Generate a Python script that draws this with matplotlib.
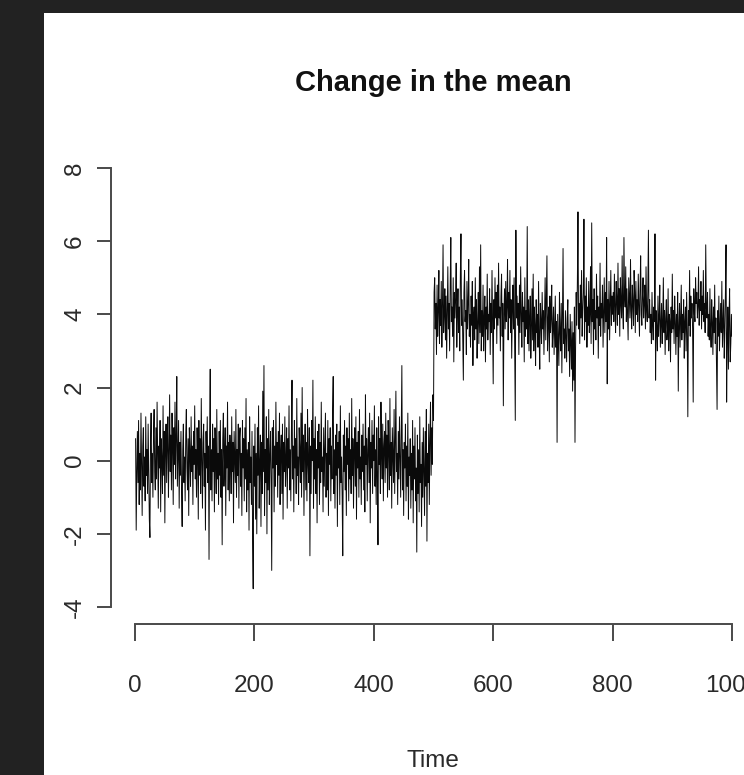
import matplotlib
matplotlib.use('Agg')
import matplotlib.pyplot as plt
from matplotlib.patches import Rectangle
import numpy as np

# series, first half (mean ~0) and second half (mean ~4)
before_change = [
    0.6, -1.9, -0.3, 0.8, -0.6, 1.1, -1.2, 0.2, -0.8, 1.3, -0.1, -1.5, 0.4, 0.9, -0.7, 0.1, -1.1, 1.2, -0.4, 0.3,
    -0.9, 1.0, -0.2, -1.6, -2.1, 0.5, 1.3, -0.6, 0.2, -1.0, 0.7, 1.4, -0.3, -0.8, 0.9, -0.5, 1.6, 0.1, -1.3, 0.4,
    -0.2, 1.1, -1.4, 0.6, 0.0, -0.9, 1.5, -0.4, 0.8, -1.7, 0.3, 1.0, -0.6, 0.5, 1.2, -1.0, 0.2, 1.8, -0.3, 0.7,
    -0.8, 1.3, 0.4, -1.2, 0.9, -0.1, 1.6, -0.5, 0.6, 2.3, -0.7, 0.2, 1.1, -1.3, 0.5, -0.4, 0.8, -0.9, -1.8, 0.3,
    1.0, -0.6, 0.1, -1.1, 0.7, 1.4, -0.2, -0.8, 0.6, -1.5, 0.9, 0.2, -0.7, 1.2, -0.3, 0.4, -1.2, 0.8, -0.1, 1.5,
    -0.5, 0.3, -1.0, 0.9, 0.1, -1.6, 1.1, -0.4, 0.6, -0.9, 1.7, 0.0, -1.3, 0.5, 1.0, -0.7, 0.2, -1.9, 0.8, -0.2,
    1.2, -0.6, 0.4, -2.7, 0.7, 2.5, -0.8, 0.3, -1.1, 1.0, -0.3, 0.6, -1.4, 0.9, 0.1, -0.9, 1.4, -0.5, 0.2, -1.2,
    0.8, -0.4, 1.1, -1.0, 0.3, -2.3, 0.6, 1.3, -0.7, 0.0, 0.9, -1.5, 0.4, -0.2, 1.6, -0.8, 0.5, -1.1, 0.7, 0.2,
    -0.9, 1.2, -0.3, 0.5, -1.7, 0.8, 0.1, -0.6, 1.4, -1.0, 0.3, -0.4, 1.0, -1.3, 0.6, 0.9, -0.7, 0.2, -1.5, 1.1,
    -0.2, 0.6, -1.1, 0.9, -0.5, 1.7, -1.4, 0.3, -0.8, 0.5, -1.9, 1.2, -0.6, 0.1, -1.2, 0.8, -2.2, -3.5, 0.4, -0.7,
    1.0, -1.6, 0.2, -2.0, 0.9, -0.4, 1.5, -1.3, -0.1, 0.7, -1.8, 0.5, -0.9, 1.9, -0.3, 2.6, -1.5, 0.3, -0.6, 1.2,
    -2.0, 0.6, -0.8, 1.4, -1.2, 0.1, 0.8, -0.5, -3.0, 0.9, -0.2, 1.1, -1.4, 0.4, -0.7, 1.6, -0.1, 0.5, -1.0, 0.8,
    -0.4, 1.3, -1.2, 0.2, 0.7, -0.9, 1.0, -1.6, 0.5, -0.3, 1.2, -0.7, 0.0, 0.9, -1.3, 0.6, -0.2, 1.5, -0.8, 0.3,
    -1.1, 0.8, 2.2, -0.5, 0.4, -1.4, 1.1, -0.2, 0.6, -0.9, 1.7, -0.4, 0.1, -1.2, 0.9, 0.3, -0.6, 1.3, -1.0, 2.0,
    -0.3, 0.7, -1.5, 0.2, 1.0, -0.8, 0.5, -1.1, 1.4, -0.1, -0.6, 0.9, -2.6, 0.4, -0.9, 1.1, 0.0, 2.2, -1.3, 0.6,
    -0.5, 1.2, -0.9, 0.3, -1.7, 0.8, -0.2, 1.0, -1.2, 0.5, -0.6, 1.6, -0.3, 0.1, -1.4, 0.9, -0.7, 0.4, 1.3, -1.0,
    0.2, -0.8, 1.1, -1.5, 0.6, -0.1, 0.9, -1.1, 0.4, -0.5, 1.4, 2.3, -0.9, 0.3, -1.3, 0.7, -0.4, 1.0, -1.8, 0.5,
    -0.2, 0.8, -1.2, 1.5, -0.6, 0.1, -1.0, -2.6, 0.7, -0.3, 1.1, -0.8, 0.4, -1.5, 0.9, -0.1, 0.6, -1.1, 1.3, -0.5,
    0.3, -0.9, 1.7, -0.4, 0.6, -1.3, 0.2, 0.9, -0.7, 1.2, -1.6, 0.5, -0.2, 0.8, -1.0, 1.4, -0.5, 0.1, -1.2, 0.7,
    -0.3, 1.0, -0.8, 0.4, -1.4, 1.8, -0.1, 0.6, -1.1, 0.3, 0.9, -0.6, 1.3, -1.7, 0.5, -0.2, 1.1, -0.9, 0.7, 0.0,
    1.5, -0.7, 0.3, -1.2, 0.9, -0.4, -2.3, 1.2, -0.1, 0.6, -0.9, 1.6, 0.2, -0.5, 1.0, -1.1, 0.4, 0.8, -0.6, 1.3,
    -0.2, 0.7, -1.0, 1.1, 0.3, -0.8, 1.7, -0.4, 0.5, -1.3, 0.9, 0.1, -0.6, 1.4, -0.9, 0.6, 1.9, -0.3, 0.2, -1.2,
    0.8, -0.5, 1.2, 0.0, -1.0, 0.7, 2.6, -0.8, 0.3, -1.5, 0.5, -0.2, 1.0, -1.1, 0.4, -0.7, 1.3, -1.6, 0.1, -0.4,
    0.6, -1.3, 0.2, -0.8, 1.1, -1.7, 0.4, -0.5, 0.9, -1.1, -0.2, -2.5, 0.7, -0.9, 0.3, -1.4, 1.2, -0.6, -0.1, -1.8,
    0.5, -1.0, 0.9, -0.3, -1.5, 0.8, -0.7, 1.4, -2.2, 0.2, -0.6, 1.0, -1.2, 0.6, 1.6, -0.4, 0.9, -0.1, 1.8, 1.1,
]
after_change = [
    4.6, 5.0, 3.6, 4.3, 2.9, 4.8, 3.4, 4.1, 5.2, 3.2, 4.4, 3.7, 4.9, 3.1, 4.2, 5.9, 3.5, 4.0, 4.7, 3.3,
    4.5, 2.8, 4.1, 5.3, 3.6, 4.3, 3.0, 4.8, 6.1, 3.8, 4.2, 3.4, 5.0, 2.7, 4.6, 3.9, 4.4, 5.4, 3.1, 4.0,
    4.7, 3.5, 4.2, 3.0, 5.1, 6.2, 3.7, 4.4, 3.2, 2.2, 4.6, 5.2, 3.8, 4.1, 2.9, 4.9, 3.6, 4.3, 5.5, 3.4,
    4.0, 3.1, 4.5, 3.7, 4.9, 2.6, 3.9, 4.2, 3.3, 5.0, 3.6, 4.4, 2.8, 3.8, 4.6, 3.2, 5.3, 3.5, 5.9, 3.0,
    4.1, 3.4, 4.8, 3.0, 3.9, 4.5, 2.7, 4.2, 3.6, 5.1, 3.3, 4.0, 3.8, 4.7, 2.9, 4.3, 3.5, 5.2, 3.7, 2.1,
    4.4, 3.6, 5.0, 3.9, 4.6, 3.2, 4.8, 3.7, 5.4, 3.9, 4.2, 3.0, 4.5, 5.1, 3.4, 4.3, 1.5, 4.0, 4.7, 3.6,
    4.9, 3.8, 4.2, 5.5, 3.3, 4.6, 3.9, 5.2, 3.5, 4.4, 2.8, 4.1, 4.8, 3.6, 5.0, 3.2, 1.1, 6.3, 3.9, 4.5,
    3.7, 4.3, 2.9, 4.8, 3.5, 5.3, 4.0, 3.1, 4.6, 3.8, 4.2, 2.7, 5.0, 3.4, 4.1, 3.6, 6.4, 3.2, 4.4, 3.0,
    3.9, 4.5, 2.8, 3.6, 4.7, 3.3, 5.1, 3.0, 4.2, 3.7, 2.6, 4.4, 3.5, 4.0, 3.1, 4.9, 3.4, 2.5, 4.3, 3.8,
    3.2, 4.6, 3.6, 4.1, 2.9, 3.9, 5.0, 3.3, 4.4, 5.6, 3.0, 3.8, 4.2, 2.7, 4.5, 3.5, 3.9, 4.8, 3.1, 3.6,
    4.2, 2.9, 3.7, 4.5, 3.1, 3.8, 0.5, 4.0, 3.3, 2.6, 4.6, 3.5, 3.0, 4.3, 2.4, 3.9, 5.8, 3.2, 3.6, 2.8,
    4.1, 3.4, 2.7, 3.9, 4.4, 3.0, 3.6, 2.3, 4.0, 3.3, 2.5, 3.8, 1.9, 3.5, 2.2, 4.2, 0.5, 3.1, 4.6, 3.7,
    4.9, 6.8, 3.6, 4.3, 3.2, 4.8, 3.9, 5.2, 3.4, 4.1, 4.6, 6.6, 3.3, 4.5, 3.8, 5.0, 3.1, 4.2, 3.7, 4.9,
    3.5, 4.0, 5.3, 3.2, 6.5, 3.8, 4.4, 2.9, 4.7, 3.6, 4.1, 3.3, 5.1, 3.9, 4.5, 2.8, 4.2, 3.7, 5.4, 3.4,
    4.3, 3.9, 4.8, 3.1, 4.0, 5.0, 3.5, 4.6, 3.8, 6.1, 2.1, 4.4, 3.6, 4.9, 3.3, 4.2, 5.2, 3.7, 4.5, 4.0,
    4.6, 3.8, 5.1, 4.2, 3.5, 4.9, 4.4, 3.7, 5.4, 4.0, 4.7, 3.4, 5.0, 4.3, 3.9, 5.6, 4.1, 3.6, 6.1, 4.5,
    4.2, 5.3, 3.8, 4.7, 4.0, 3.3, 5.0, 4.4, 3.9, 5.5, 4.1, 3.6, 4.8, 4.3, 3.7, 5.2, 4.6, 3.5, 4.9, 4.0,
    4.4, 3.8, 5.1, 4.2, 3.4, 4.7, 5.6, 4.0, 3.7, 4.5, 5.0, 3.9, 4.3, 4.8, 3.6, 5.3, 4.1, 3.8, 4.6, 6.3,
    3.9, 4.4, 3.5, 4.0, 3.2, 4.6, 3.7, 3.3, 4.2, 3.8, 6.2, 2.2, 4.1, 3.6, 3.0, 4.5, 3.4, 3.9, 4.8, 3.1,
    3.7, 4.3, 3.2, 3.8, 5.0, 3.5, 4.1, 2.9, 3.9, 4.4, 3.3, 3.6, 4.7, 3.0, 4.0, 3.8, 2.7, 4.2, 3.5, 5.1,
    3.6, 4.1, 3.2, 4.5, 3.8, 2.9, 4.0, 3.4, 4.6, 1.9, 3.7, 4.3, 3.1, 3.9, 4.8, 3.3, 4.0, 3.5, 4.4, 2.8,
    3.8, 4.2, 3.0, 4.6, 3.5, 1.2, 4.1, 3.7, 5.2, 3.4, 4.5, 3.9, 4.3, 3.6, 1.6, 4.7, 4.0, 3.8, 5.0, 4.3,
    4.6, 3.9, 4.2, 5.3, 3.7, 4.4, 4.1, 4.9, 3.6, 4.5, 4.0, 5.2, 3.8, 4.3, 3.5, 5.9, 4.2, 3.9, 4.6, 3.4,
    4.0, 3.3, 4.7, 3.6, 3.1, 4.4, 3.8, 2.9, 4.2, 3.5, 4.8, 3.2, 3.9, 2.6, 1.4, 4.1, 3.4, 4.5, 3.0, 3.7,
    4.3, 3.5, 4.9, 3.1, 3.8, 4.4, 2.8, 3.6, 4.6, 5.9, 1.6, 3.3, 4.2, 2.5, 3.9, 4.7, 2.7, 3.2, 4.0, 3.4,
]
x_ticks = [0, 200, 400, 600, 800, 1000]
y_ticks = [-4, -2, 0, 2, 4, 6, 8]
title = 'Change in the mean'
x_label = 'Time'

plt.rcParams['font.family'] = ['Liberation Sans', 'DejaVu Sans']

values = np.array(before_change + after_change)
time = np.arange(1, len(values) + 1)

W, H = 744, 775
fig = plt.figure(figsize=(W / 100, H / 100), dpi=100)
fig.patch.set_facecolor('#222222')
# white sheet of the screenshot, kept behind the axes
fig.patches.append(Rectangle((44 / W, 0), 1, 1 - 13 / H, transform=fig.transFigure,
                             facecolor='white', edgecolor='none', zorder=-5))

ax = fig.add_axes([135 / W, 1 - 607 / H, (732 - 135) / W, (607 - 168) / H])
ax.set_zorder(2)
ax.set_facecolor('none')
ax.plot(time, values, color='#0a0a0a', lw=0.7)

ax.set_xlim(0, 1000)
ax.set_ylim(-4, 8)
ax.set_xticks(x_ticks)
ax.set_yticks(y_ticks)
ax.set_xticklabels([str(v) for v in x_ticks])
ax.set_yticklabels([str(v) for v in y_ticks])

for s in ['top', 'right']:
    ax.spines[s].set_visible(False)
ax.spines['left'].set_position(('outward', 24 * 0.72))
ax.spines['bottom'].set_position(('outward', 17 * 0.72))
for s in ['left', 'bottom']:
    ax.spines[s].set_color('#4a4a4a')
    ax.spines[s].set_linewidth(1.4)

ax.tick_params(axis='x', length=12.5, width=1.4, color='#4a4a4a', pad=24,
               labelsize=17.5, labelcolor='#2a2a2a')
ax.tick_params(axis='y', length=10, width=1.4, color='#4a4a4a', pad=8,
               labelsize=17.5, labelcolor='#2a2a2a', labelrotation=90)
for lab in ax.get_yticklabels():
    lab.set_va('center')

fig.text(433.5 / W, 1 - 91 / H, title, ha='center', va='baseline',
         fontsize=21, fontweight='bold', color='#111111')
fig.text(433 / W, 1 - 767 / H, x_label, ha='center', va='baseline',
         fontsize=17.5, color='#2a2a2a')

fig.savefig('out.png', dpi=100, facecolor=fig.get_facecolor())
